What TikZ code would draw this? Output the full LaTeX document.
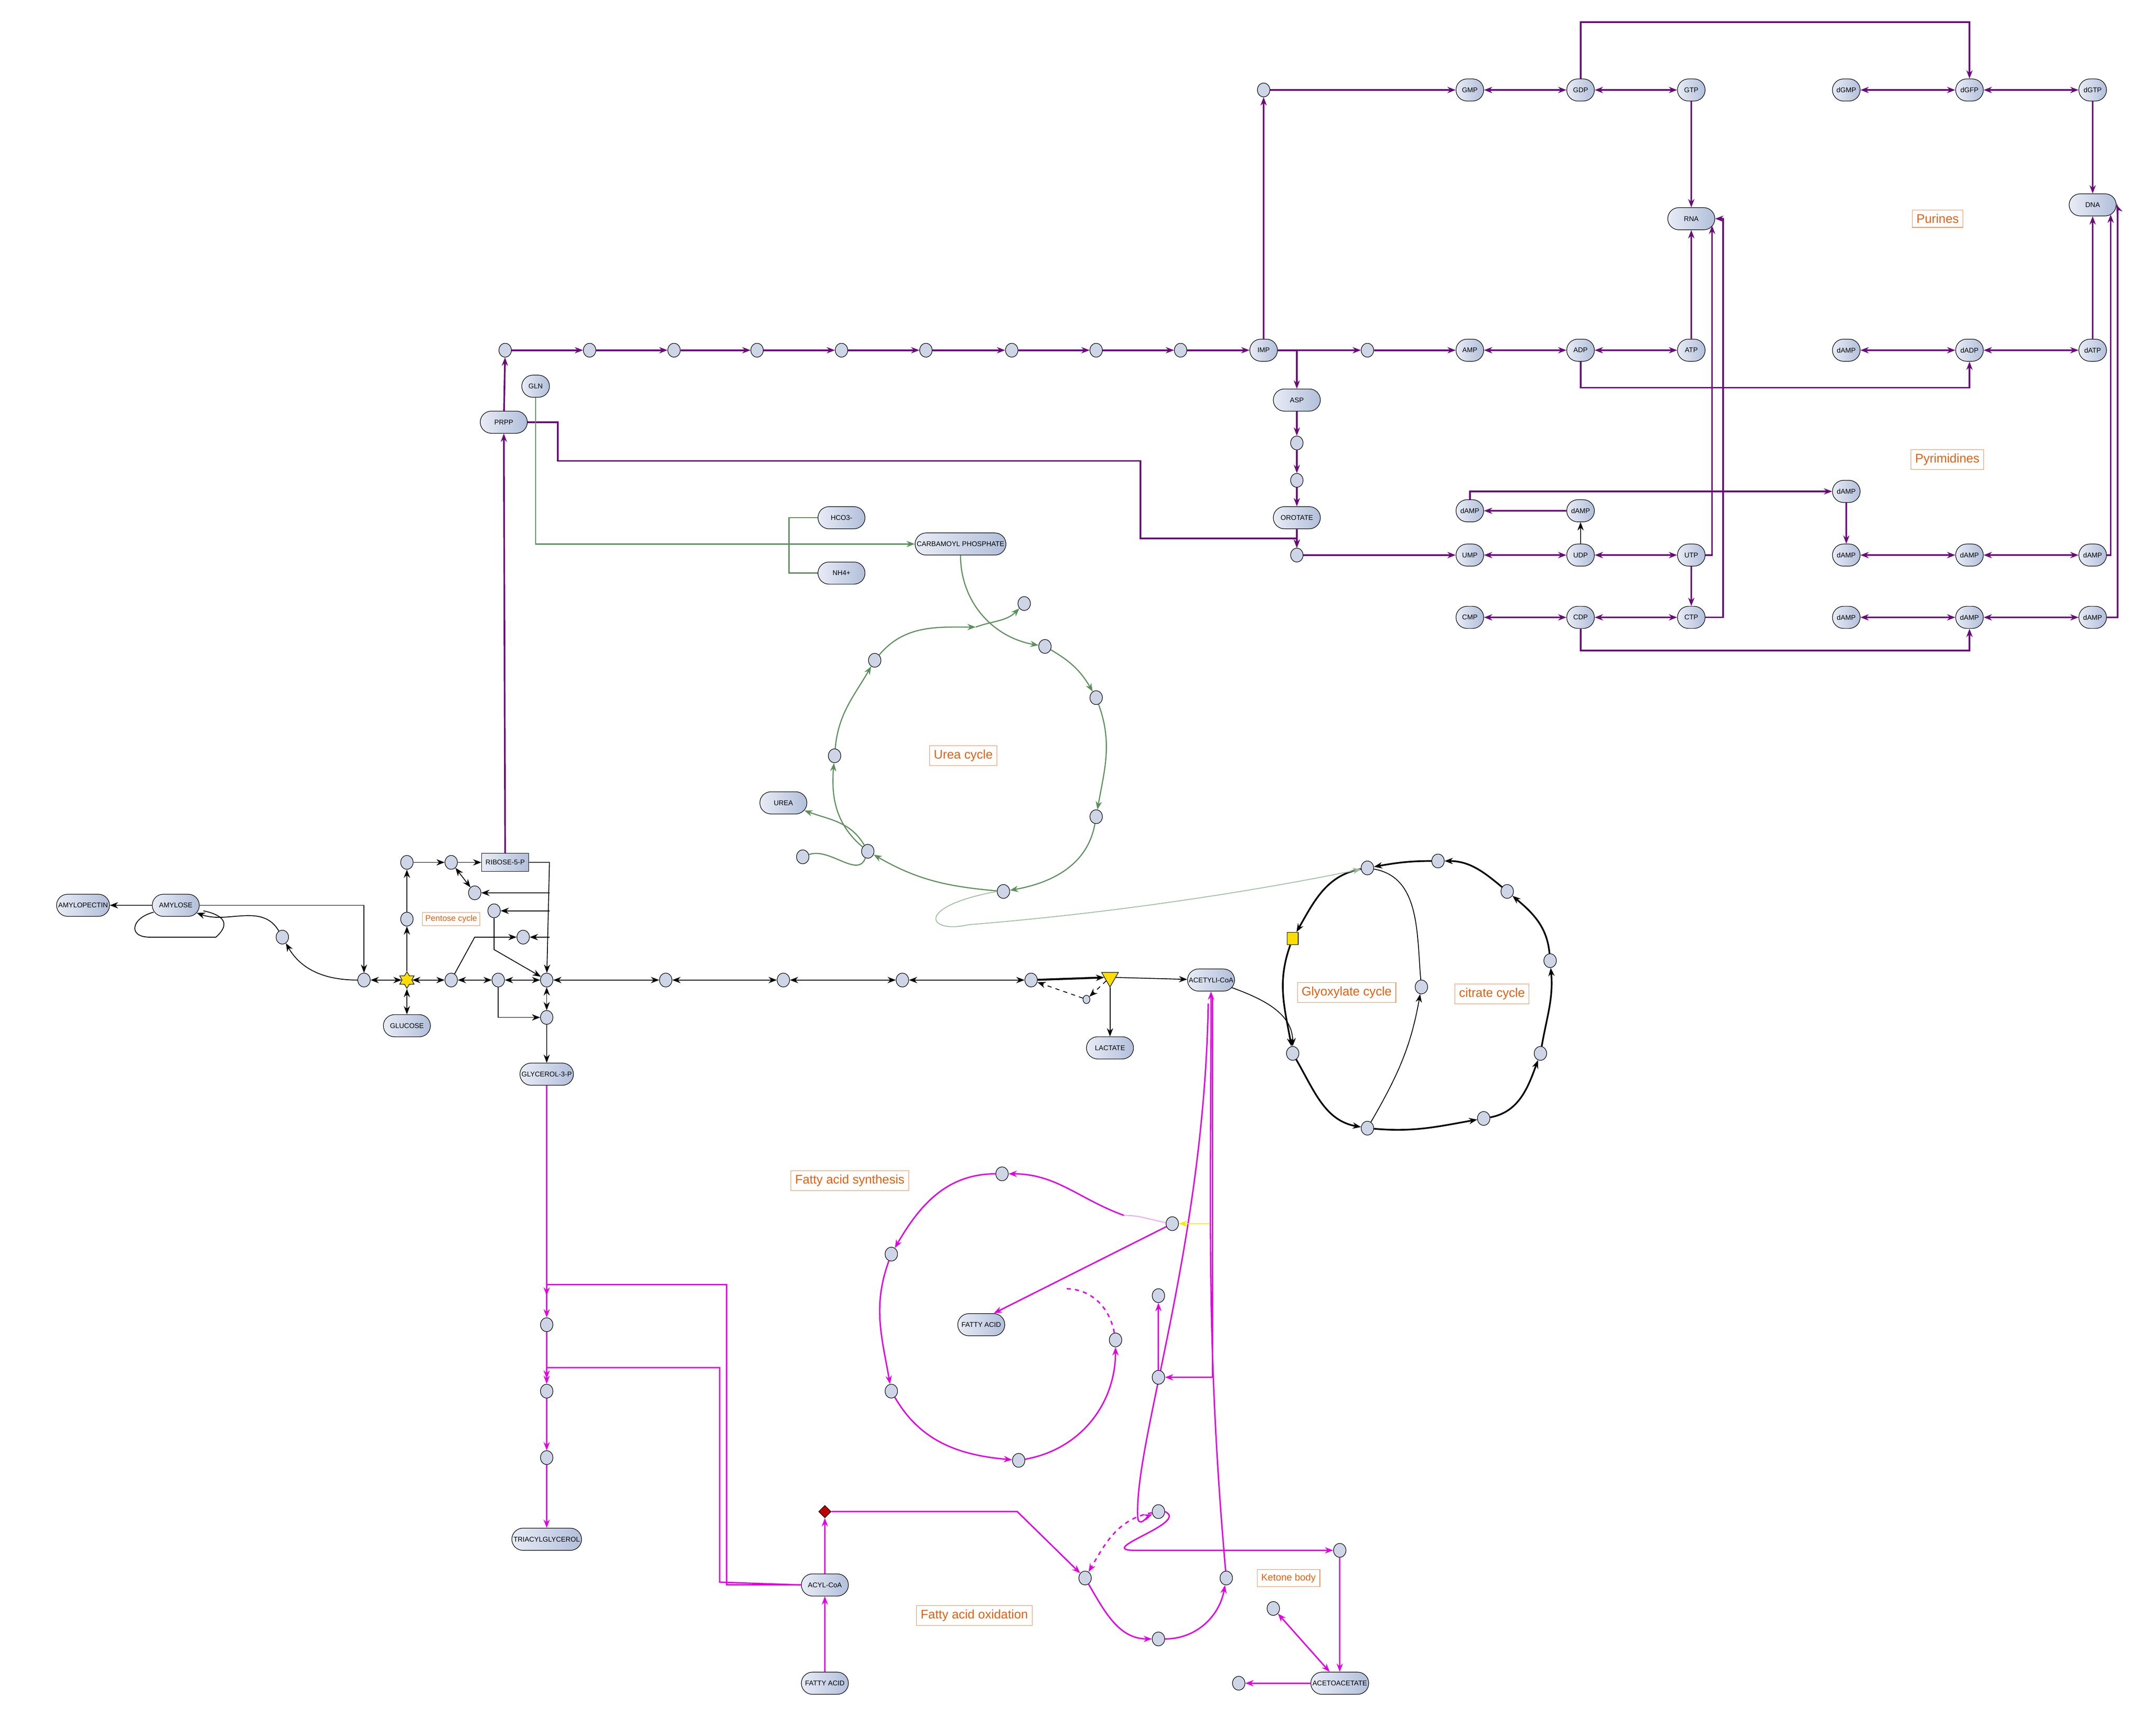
\documentclass[tikz,border=0pt]{standalone}
\usepackage{fontspec}
\setmainfont{Liberation Sans}
\usetikzlibrary{shapes.misc,shapes.geometric,arrows.meta}
\definecolor{pur}{HTML}{6A0A7A}
\definecolor{grn}{HTML}{5A8F5A}
\definecolor{mag}{HTML}{E000E0}
\definecolor{org}{HTML}{E06010}
\definecolor{nfl}{HTML}{CDD5E6}
\definecolor{pl}{HTML}{E8ECF6}
\definecolor{pr}{HTML}{B2BFDA}
\tikzset{
 c/.style={ellipse,draw,fill=nfl,minimum width=9pt,minimum height=10pt,inner sep=0pt},
 pill/.style={rounded rectangle,draw,left color=pl,right color=pr,font=\fontsize{5}{6}\selectfont,minimum height=16pt,minimum width=36pt,inner sep=1pt},
 sp/.style={pill,minimum width=22pt},
 lab/.style={draw=org!70,text=org,font=\fontsize{9}{10}\selectfont,inner sep=3pt},
 tp/.style={-{Stealth[length=6pt,width=4.5pt]}},
 tb/.style={{Stealth[length=6pt,width=4.5pt]}-{Stealth[length=6pt,width=4.5pt]}},
 pe/.style={pur,line width=1.2pt},
 ge/.style={grn,line width=0.8pt},
 me/.style={mag,line width=1pt},
 ke/.style={black,line width=0.6pt},
}
\begin{document}
\begin{tikzpicture}[x=1pt,y=-1pt]
\useasboundingbox (0,0) rectangle (1552,1254);
% ---------- purine row y=253
\node[pill] (prpp) at (364,305) {PRPP};
\node[sp] (gln) at (387,279) {GLN};
\foreach \i/\x in {1/365,2/426,3/487,4/547,5/608,6/669,7/731,8/792,9/853} \node[c] (p\i) at (\x,253) {};
\node[sp] (imp) at (913,253) {IMP};
\node[c] (p10) at (988,253) {};
\node[sp] (amp) at (1062,253) {AMP};
\node[sp] (adp) at (1142,253) {ADP};
\node[sp] (atp) at (1222,253) {ATP};
\node[sp] (damp1) at (1334,253) {dAMP};
\node[sp] (dadp) at (1423,253) {dADP};
\node[sp] (datp) at (1512,253) {dATP};
\node[c] (g0) at (913,65) {};
\node[sp] (gmp) at (1062,65) {GMP};
\node[sp] (gdp) at (1142,65) {GDP};
\node[sp] (gtp) at (1222,65) {GTP};
\node[sp] (dgmp) at (1334,65) {dGMP};
\node[sp] (dgfp) at (1423,65) {dGFP};
\node[sp] (dgtp) at (1512,65) {dGTP};
\node[pill] (rna) at (1222,158) {RNA};
\node[pill] (dna) at (1512,148) {DNA};
\node[lab] (purl) at (1400,158) {Purines};
\node[lab] (pyrl) at (1407,332) {Pyrimidines};
\node[pill] (asp) at (937,289) {ASP};
\node[c] (a1) at (937,320) {};
\node[c] (a2) at (937,347) {};
\node[pill] (orot) at (937,374) {OROTATE};
\node[c] (a3) at (937,401) {};
\node[sp] (ump) at (1062,401) {UMP};
\node[sp] (udp) at (1142,401) {UDP};
\node[sp] (utp) at (1222,401) {UTP};
\node[sp] (dq1) at (1142,369) {dAMP};
\node[sp] (dq2) at (1062,369) {dAMP};
\node[sp] (dq3) at (1334,355) {dAMP};
\node[sp] (dr1) at (1334,401) {dAMP};
\node[sp] (dr2) at (1423,401) {dAMP};
\node[sp] (dr3) at (1512,401) {dAMP};
\node[sp] (cmp) at (1062,446) {CMP};
\node[sp] (cdp) at (1142,446) {CDP};
\node[sp] (ctp) at (1222,446) {CTP};
\node[sp] (ds1) at (1334,446) {dAMP};
\node[sp] (ds2) at (1423,446) {dAMP};
\node[sp] (ds3) at (1512,446) {dAMP};
% purple edges
\draw[pe,tp] (prpp) -- (p1);
\foreach \a/\b in {p1/p2,p2/p3,p3/p4,p4/p5,p5/p6,p6/p7,p7/p8,p8/p9,p9/imp,imp/p10,p10/amp,g0/gmp,atp/rna,gtp/rna,dgtp/dna,datp/dna,utp/ctp,dq1/dq2,dq3/dr1,a1/a2,a2/orot,orot/a3,a3/ump}
  \draw[pe,tp] (\a) -- (\b);
\draw[pe,tp] (imp) -- (g0);
\draw[pe,tp] (imp.east) -| (asp);
\draw[pe,tp] (asp) -- (a1);
\foreach \a/\b in {amp/adp,adp/atp,gmp/gdp,gdp/gtp,dgmp/dgfp,dgfp/dgtp,damp1/dadp,dadp/datp,ump/udp,udp/utp,cmp/cdp,cdp/ctp,dr1/dr2,dr2/dr3,ds1/ds2,ds2/ds3}
  \draw[pe,tb] (\a) -- (\b);
\draw[pe,tp] (gdp.north) -- (1142,16) -| (dgfp.north);
\draw[pe,tp] (adp.south) -- (1142,280) -| (dadp.south);
\draw[pe,tp] (cdp.south) -- (1142,470) -| (ds2.south);
\draw[pe,tp] (dq2.north) |- (dq3.west);
\draw[ke,tp] (udp) -- (dq1);
\draw[pe,tp] (utp.east) -- (1237,401) -- (1237,163);
\draw[pe,tp] (ctp.east) -- (1245,446) -- (1245,158) -- (rna.east);
\draw[pe,tp] (dr3.east) -- (1525,401) -- (1525,155);
\draw[pe,tp] (ds3.east) -- (1530,446) -- (1530,150) -- (dna.east);
\draw[pe,tp] (prpp.east) -- (403,305) -- (403,333) -- (824,333) -- (824,389) -- (937,389) -- (a3);
% ---------- urea cycle (green)
\node[pill] (carb) at (694,393) {CARBAMOYL PHOSPHATE};
\node[pill] (hco) at (608,374) {HCO3-};
\node[pill] (nh4) at (608,414) {NH4+};
\draw[ge,tp] (gln.south) -- (387,393) -- (carb.west);
\draw[ge] (hco.west) -- (570,374) -- (570,414) -- (nh4.west);
\node[c] (u1) at (755,467) {};
\node[c] (u2) at (792,504) {};
\node[c] (u3) at (792,590) {};
\node[c] (u4) at (725,644) {};
\node[c] (u5) at (627,615) {};
\node[c] (u6) at (603,546) {};
\node[c] (u7) at (632,477) {};
\node[c] (u8) at (740,436) {};
\node[pill] (urea) at (566,580) {UREA};
\node[c] (u9) at (580,619) {};
\node[lab] (ureal) at (696,546) {Urea cycle};
\draw[ge,tp] (carb.south) to[out=-90,in=170] (u1);
\draw[ge,tp] (705,453) to[out=20,in=-135] (u8);
\draw[ge,tp] (u1) to[out=-30,in=120] (u2);
\draw[ge,tp] (u2) to[out=-70,in=80] (u3);
\draw[ge,tp] (u3) to[out=-100,in=10] (u4);
\draw[ge,tp] (u4) to[out=175,in=-30] (u5);
\draw[ge,tp] (u5) to[out=140,in=-95] (u6);
\draw[ge,tp] (u6) to[out=85,in=-120] (u7);
\draw[ge,tp] (u7) to[out=50,in=180] (705,453);
\draw[ge,tp] (u5) to[out=120,in=-20] (urea);
\draw[ge] (u9) to[out=20,in=-110] (u5);
% ---------- glycolysis row y=708
\node[c] (y1) at (263,708) {};
\node[star,star points=6,star point ratio=1.7,draw,fill=yellow!80!orange,minimum size=12pt,inner sep=0pt] (star) at (294,708) {};
\node[c] (y2) at (326,708) {};
\node[c] (y3) at (360,708) {};
\node[c] (y4) at (395,708) {};
\node[c] (y5) at (481,708) {};
\node[c] (y6) at (566,708) {};
\node[c] (y7) at (652,708) {};
\node[c] (y8) at (745,708) {};
\node[regular polygon,regular polygon sides=3,shape border rotate=180,draw,fill=yellow!80!orange,minimum size=14pt,inner sep=0pt] (tri) at (802,706) {};
\node[c,minimum width=5pt,minimum height=6pt] (ys) at (785,722) {};
\node[pill] (acet) at (875,708) {ACETYLI-CoA};
\node[pill] (lact) at (802,757) {LACTATE};
\node[pill] (glu) at (294,741) {GLUCOSE};
\node[c] (y9) at (395,735) {};
\node[pill] (g3p) at (395,776) {GLYCEROL-3-P};
\node[c] (q1) at (294,664) {};
\node[c] (q2) at (294,623) {};
\node[c] (q3) at (326,623) {};
\node[rectangle,draw,left color=pl,right color=pr,font=\fontsize{5}{6}\selectfont,minimum width=34pt,minimum height=13pt,inner sep=1pt] (rib) at (365,623) {RIBOSE-5-P};
\node[c] (q4) at (343,645) {};
\node[c] (q5) at (357,658) {};
\node[c] (q6) at (378,677) {};
\node[lab,font=\fontsize{6}{7}\selectfont,inner sep=2pt] (pentl) at (326,664) {Pentose cycle};
\node[pill] (amyl) at (127,654) {AMYLOSE};
\node[pill] (amylp) at (60,654) {AMYLOPECTIN};
\node[c] (y0) at (204,677) {};
\foreach \a/\b in {y1/star,star/y2,y2/y3,y3/y4,y4/y5,y5/y6,y6/y7,y7/y8,star/glu,y4/y9} \draw[ke,tb] (\a) -- (\b);
\draw[ke,line width=1.4pt,tp] (y8) -- (tri);
\draw[ke,tp] (tri) -- (acet);
\draw[ke,tp] (tri) -- (lact);
\draw[ke,dashed,tp] (tri) -- (ys);
\draw[ke,dashed,tp] (ys) -- (y8);
\draw[ke,tp] (star) -- (q1);
\draw[ke,tp] (q1) -- (q2);
\draw[ke,tp] (q2) -- (q3);
\draw[ke,tp] (q3) -- (rib);
\draw[ke,tb] (q3) -- (q4);
\draw[pe,tp] (rib) -- (prpp);
\draw[ke,tp] (rib.east) -- (397,623) -- (y4);
\draw[ke,tp] (397,645) -- (q4);
\draw[ke,tp] (397,658) -- (q5);
\draw[ke,tp] (397,677) -- (q6);
\draw[ke,tp] (q5) -- (357,686) -- (y4);
\draw[ke,tp] (y2) -- (343,677) -- (q6);
\draw[ke,tp] (y3) -- (360,735) -- (y9);
\draw[ke,tp] (y9) -- (g3p);
\draw[ke,tp] (amyl) -- (amylp);
\draw[ke,tp] (amyl.east) -- (263,654) -- (y1);
\draw[ke,tp] (y1) to[out=180,in=-60] (y0);
\draw[ke,tp] (y0) to[out=120,in=-20] (amyl);
\draw[ke] (111,659) .. controls (95,663) and (92,677) .. (108,677) -- (156,677) .. controls (164,670) and (166,662) .. (147,658);
% ---------- citrate cycle
\node[c] (k1) at (988,627) {};
\node[c] (k2) at (1039,622) {};
\node[c] (k3) at (1089,644) {};
\node[c] (k4) at (1120,694) {};
\node[c] (k5) at (1113,761) {};
\node[c] (k6) at (1072,808) {};
\node[c] (k7) at (988,815) {};
\node[c] (k8) at (934,761) {};
\node[c] (k9) at (1027,713) {};
\node[rectangle,draw,fill=yellow!80!orange,minimum width=8pt,minimum height=9pt,inner sep=0pt] (sq) at (934,678) {};
\node[lab] (glyl) at (973,717) {Glyoxylate cycle};
\node[lab] (citl) at (1078,718) {citrate cycle};
\tikzset{kt/.style={black,line width=1.2pt,tp}}
\draw[kt] (k8) to[out=-60,in=170] (k7);
\draw[kt] (k7) to[out=-5,in=190] (k6);
\draw[kt] (k6) to[out=10,in=-110] (k5);
\draw[kt] (k5) to[out=80,in=-85] (k4);
\draw[kt] (k4) to[out=95,in=-40] (k3);
\draw[kt] (k3) to[out=140,in=0] (k2);
\draw[kt] (k2) to[out=180,in=10] (k1);
\draw[kt] (k1) to[out=190,in=60] (sq);
\draw[kt] (sq) to[out=-110,in=100] (k8);
\draw[ke,tp] (k7) to[out=60,in=-100] (k9);
\draw[ke] (k9) to[out=95,in=-10] (k1);
\draw[ke,tp] (acet) to[out=-20,in=90] (k8);
\draw[grn!60,line width=0.6pt,tp] (u4.west) .. controls (660,655) and (670,675) .. (700,668) .. controls (800,660) and (900,645) .. (k1);
% ---------- fatty acids (magenta)
\node[c] (f1) at (395,957) {};
\node[c] (f2) at (395,1005) {};
\node[c] (f3) at (395,1053) {};
\node[pill] (tag) at (395,1112) {TRIACYLGLYCEROL};
\node[pill] (acyl) at (596,1145) {ACYL-CoA};
\node[pill] (fa1) at (596,1216) {FATTY ACID};
\node[diamond,draw,fill=red!75!black,minimum size=9pt,inner sep=0pt] (dia) at (596,1092) {};
\draw[me,tp] (g3p) -- (f1);
\draw[me,tp] (f1) -- (f2);
\draw[me,tp] (f2) -- (f3);
\draw[me,tp] (f3) -- (tag);
\draw[me,tp] (acyl.west) -- (525,1145) -- (525,928) -- (395,928) -- (395,936);
\draw[me,tp] (acyl.west) -- (520,1143) -- (520,988) -- (395,988) -- (395,996);
\draw[me,tp] (fa1) -- (acyl);
\draw[me,tp] (acyl) -- (dia);
\node[c] (o1) at (784,1140) {};
\node[c] (o2) at (837,1184) {};
\node[c] (o3) at (886,1140) {};
\node[c] (o4) at (837,1092) {};
\node[c] (o5) at (968,1120) {};
\node[pill] (aca) at (968,1216) {ACETOACETATE};
\node[c] (o6) at (895,1216) {};
\node[c] (o7) at (920,1162) {};
\node[lab,font=\fontsize{7}{8}\selectfont] (ketl) at (931,1140) {Ketone body};
\node[lab] (faol) at (704,1167) {Fatty acid oxidation};
\draw[me,tp] (dia.east) -- (735,1092) -- (o1);
\draw[me,tp] (o1) to[out=-60,in=180] (o2);
\draw[me,tp] (o2) to[out=0,in=-100] (o3);
\draw[me,tp] (o3) to[out=95,in=-90] (acet.south);
\draw[me,dashed,tp] (o4) to[out=190,in=60] (o1);
\draw[me,tp] (873,725) .. controls (870,900) and (820,1040) .. (822,1095) .. controls (822,1105) and (830,1095) .. (o4);
\draw[me,tp] (o4.east) .. controls (860,1100) and (790,1120) .. (820,1120) -- (o5);
\draw[me,tp] (o5) -- (aca);
\draw[me,tp] (aca) -- (o6);
\draw[me,tb] (aca) -- (o7);
% fatty acid synthesis
\node[c] (s1) at (724,848) {};
\node[c] (s2) at (847,884) {};
\node[c] (s3) at (837,936) {};
\node[c] (s4) at (837,995) {};
\node[c] (s5) at (806,968) {};
\node[c] (s6) at (736,1055) {};
\node[c] (s7) at (644,1005) {};
\node[c] (s8) at (644,906) {};
\node[pill] (fa2) at (709,957) {FATTY ACID};
\node[lab] (fasl) at (614,853) {Fatty acid synthesis};
\draw[me,tp] (876,995) -- (s4);
\draw[me] (876,720) -- (876,995);
\draw[me,tp] (s4) -- (s3);
\draw[yellow!90!orange,line width=0.6pt,tp] (874,884) -- (s2);
\draw[me,tp] (s2) -- (fa2.north east);
\draw[mag!40,line width=0.6pt] (s2) to[out=170,in=0] (812,878);
\draw[me,tp] (812,878) to[out=160,in=0] (s1);
\draw[me,tp] (s1) to[out=180,in=60] (s8);
\draw[me,tp] (s8) to[out=-110,in=100] (s7);
\draw[me,tp] (s7) to[out=-60,in=175] (s6);
\draw[me,tp] (s6) to[out=10,in=-90] (s5);
\draw[me,dashed] (s5) to[out=100,in=0] (770,931);
\end{tikzpicture}
\end{document}
